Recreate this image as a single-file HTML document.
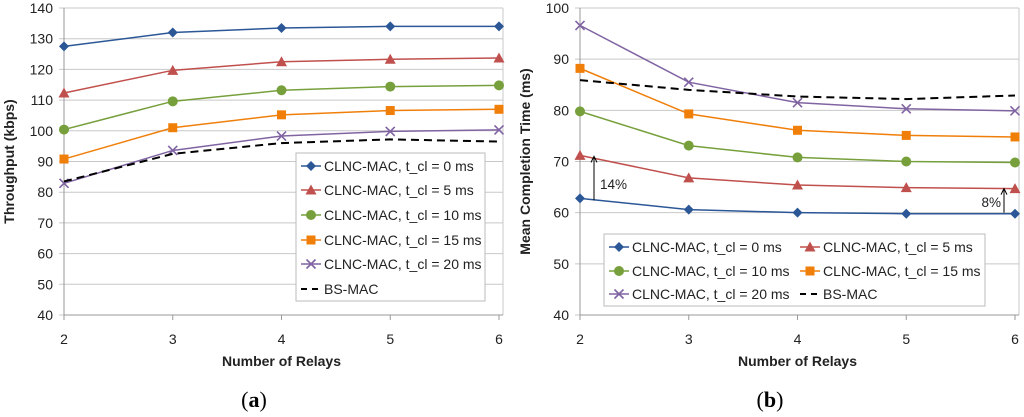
<!DOCTYPE html>
<html><head><meta charset="utf-8"><style>
body{margin:0;background:#fff;}
svg{display:block;font-family:"Liberation Sans",sans-serif;}
</style></head><body>
<svg id="fig" width="1024" height="417" viewBox="0 0 1024 417"></svg>
<script>
const categories=[2,3,4,5,6];
const seriesNames=["CLNC-MAC, t_cl = 0 ms","CLNC-MAC, t_cl = 5 ms","CLNC-MAC, t_cl = 10 ms","CLNC-MAC, t_cl = 15 ms","CLNC-MAC, t_cl = 20 ms","BS-MAC"];
const thr0=[127.5,132,133.5,134,134];
const thr5=[112.3,119.7,122.5,123.3,123.7];
const thr10=[100.4,109.6,113.2,114.4,114.8];
const thr15=[90.8,101,105.2,106.6,107];
const thr20=[82.9,93.6,98.3,99.8,100.3];
const thrBS=[83.5,92.5,96,97.2,96.5];
const mct0=[62.8,60.6,60,59.8,59.8];
const mct5=[71.2,66.8,65.4,64.9,64.7];
const mct10=[79.8,73.1,70.8,70,69.8];
const mct15=[88.2,79.3,76.1,75.1,74.8];
const mct20=[96.6,85.5,81.5,80.3,79.9];
const mctBS=[85.9,84,82.7,82.2,82.9];
const ticksA=[40,50,60,70,80,90,100,110,120,130,140];
const ticksB=[40,50,60,70,80,90,100];

const colors=["#2b5797","#c0504d","#77a03c","#f07f0a","#8064a2","#000"];
const markers=["diamond","triangle","circle","square","x","none"];
const NS="http://www.w3.org/2000/svg";
const svg=document.getElementById('fig');
function mk(tag,attrs,parent,text){const e=document.createElementNS(NS,tag);for(const k in attrs)e.setAttribute(k,attrs[k]);if(text!==undefined)e.textContent=text;(parent||svg).appendChild(e);return e;}

function marker(g,type,x,y,c){
  let e;
  if(type==="diamond"){e=mk('polygon',{points:`${x},${y-5} ${x+5},${y} ${x},${y+5} ${x-5},${y}`,fill:c},g);}
  else if(type==="triangle"){e=mk('polygon',{points:`${x},${y-5.5} ${x+5.5},${y+4.5} ${x-5.5},${y+4.5}`,fill:c},g);}
  else if(type==="circle"){e=mk('circle',{cx:x,cy:y,r:5,fill:c},g);}
  else if(type==="square"){e=mk('rect',{x:x-4.5,y:y-4.5,width:9,height:9,fill:c},g);}
  else if(type==="x"){e=mk('path',{d:`M${x-4.5},${y-4.5}L${x+4.5},${y+4.5}M${x-4.5},${y+4.5}L${x+4.5},${y-4.5}`,stroke:c,'stroke-width':1.6,fill:'none'},g);}
  else return;
  
  
}

function chart(opt){
  const g=mk('g',{});
  
  
  const xs=v=>opt.x0+(v-categories[0])/(categories[categories.length-1]-categories[0])*(opt.x1-opt.x0);
  const ys=v=>opt.y1-(v-opt.min)/(opt.max-opt.min)*(opt.y1-opt.y0);
  opt.ticks.forEach(t=>{
    const l=mk('line',{x1:opt.x0-5,x2:opt.x1+4,y1:ys(t),y2:ys(t),stroke:'#c8c8c8','stroke-width':1},g);
    
    
    const tx=mk('text',{x:opt.x0-11,y:ys(t)+5,'text-anchor':'end','font-size':14,fill:'#222'},g,t);
    
    
  });
  mk('line',{x1:opt.x1+4,x2:opt.x1+4,y1:opt.y0,y2:opt.y1,stroke:'#c8c8c8'},g);
  const ax=mk('line',{x1:opt.x0,x2:opt.x0,y1:opt.y0,y2:opt.y1+5,stroke:'#999'},g);
  
  
  const xa=mk('line',{x1:opt.x0,x2:opt.x1+4,y1:opt.y1,y2:opt.y1,stroke:'#999'},g);
  
  
  categories.forEach(c=>{
    mk('line',{x1:xs(c),x2:xs(c),y1:opt.y1,y2:opt.y1+5,stroke:'#999'},g);
    const tx=mk('text',{x:xs(c),y:opt.y1+29,'text-anchor':'middle','font-size':14,fill:'#222'},g,c);
    
    
  });
  const xt=mk('text',{x:(opt.x0+opt.x1)/2,y:366,'text-anchor':'middle','font-size':14,'font-weight':'bold',fill:'#222'},g,'Number of Relays');
  
  
  const yt=mk('text',{x:0,y:0,transform:`translate(${opt.ytx},${(opt.y0+opt.y1)/2}) rotate(-90)`,'text-anchor':'middle','font-size':14,'font-weight':'bold',fill:'#222'},g,opt.ytitle);
  
  
  const cap=mk('text',{x:opt.capx,y:407,'text-anchor':'middle','font-size':22,'font-family':'Liberation Serif, serif',fill:'#000'},g);
  
  
  mk('tspan',{},cap,'(');mk('tspan',{'font-weight':'bold'},cap,opt.cap);mk('tspan',{},cap,')');
  opt.series.forEach((s,i)=>{
    const sg=mk('g',{},g);
    
    
    const d=s.map((v,j)=>(j?'L':'M')+xs(categories[j])+','+ys(v)).join('');
    const p=mk('path',{d:d,fill:'none',stroke:colors[i],'stroke-width':i===5?2:1.5,'stroke-dasharray':i===5?'8,5':'none'},sg);
    
    
    s.forEach((v,j)=>marker(sg,markers[i],xs(categories[j]),ys(v),colors[i]));
  });
  const lg=mk('g',{},g);
  
  
  mk('rect',{x:opt.leg.x,y:opt.leg.y,width:opt.leg.w,height:opt.leg.h,fill:'#fff',stroke:'#bbb'},lg);
  opt.leg.items.forEach((it,i)=>{
    const eg=mk('g',{},lg);
    
    
    mk('line',{x1:it[0],x2:it[0]+20,y1:it[1],y2:it[1],stroke:colors[i],'stroke-width':i===5?2:1.5,'stroke-dasharray':i===5?'6,5':'none'},eg);
    marker(eg,markers[i],it[0]+10,it[1],colors[i]);
    mk('text',{x:it[0]+23,y:it[1]+5,'font-size':14,fill:'#222'},eg,seriesNames[i]);
  });
  return {g,xs,ys};
}

chart({name:'throughput-chart',x0:64,x1:499,y0:8,y1:315,min:40,max:140,ticks:ticksA,
  ytitle:'Throughput (kbps)',ytx:14,cap:'a',capx:254,
  series:[thr0,thr5,thr10,thr15,thr20,thrBS],
  leg:{x:296,y:153,w:189,h:148,items:[[301,166],[301,190],[301,215],[301,240],[301,264],[301,289]]}});

const B=chart({name:'completion-time-chart',x0:580,x1:1015,y0:8,y1:315,min:40,max:100,ticks:ticksB,
  ytitle:'Mean Completion Time (ms)',ytx:530,cap:'b',capx:770,
  series:[mct0,mct5,mct10,mct15,mct20,mctBS],
  leg:{x:604,y:234,w:381,h:72,items:[[609,247],[800,247],[609,271],[800,271],[609,294],[800,294]]}});

function arrow(x,ya,yb,label,lx,ly,anchor){
  const g=mk('g',{},B.g);
  
  
  mk('line',{x1:x,x2:x,y1:B.ys(ya),y2:B.ys(yb)+1,stroke:'#000','stroke-width':1},g);
  mk('path',{d:`M${x-3},${B.ys(yb)+6}L${x},${B.ys(yb)}L${x+3},${B.ys(yb)+6}`,stroke:'#000',fill:'none','stroke-width':1},g);
  mk('text',{x:lx,y:ly,'font-size':13.5,fill:'#222','text-anchor':anchor},g,label);
}
arrow(594,62.4,71,'14%',600,189,'start');
arrow(1004,60,64.7,'8%',1001,207,'end');
</script>
</body></html>
